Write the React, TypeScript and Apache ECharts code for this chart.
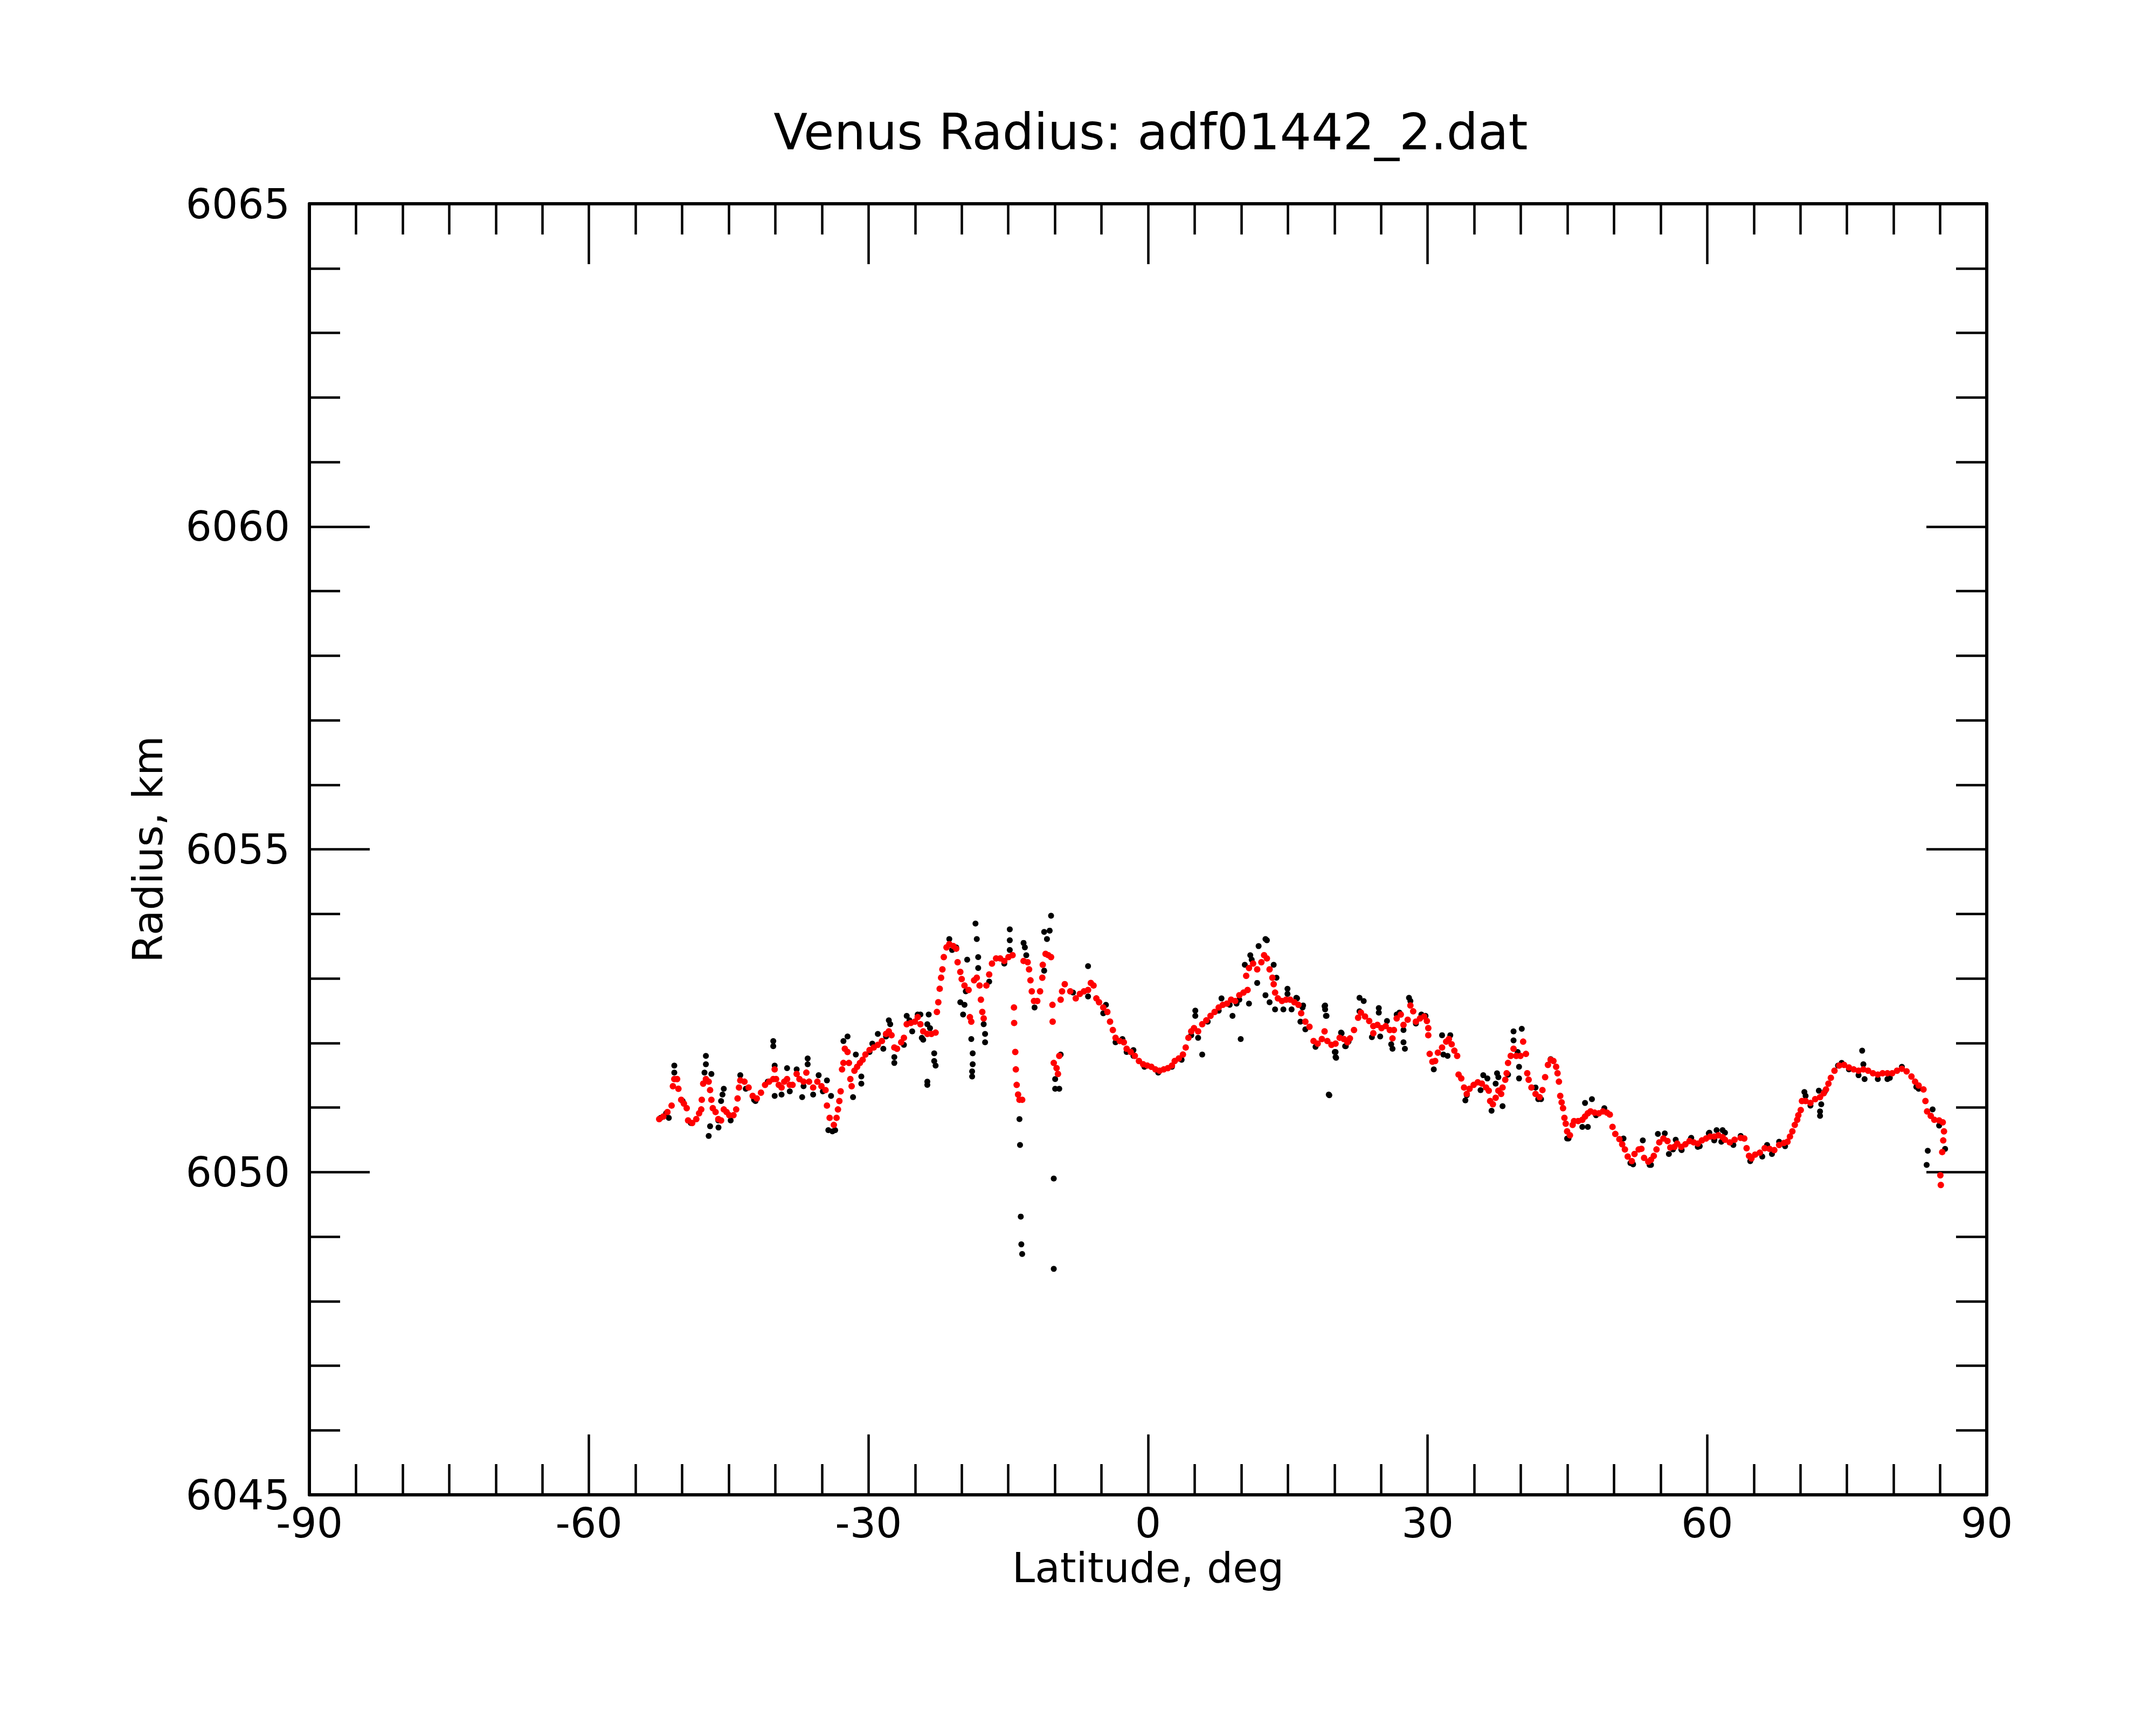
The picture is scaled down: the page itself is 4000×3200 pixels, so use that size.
import React, { useEffect, useRef } from "react";
import * as echarts from "echarts";

const TITLE = "Venus Radius: adf01442_2.dat";
const X_NAME = "Latitude, deg";
const Y_NAME = "Radius, km";
const X_MIN = -90;
const X_MAX = 90;
const X_STEP = 30;
const Y_MIN = 6045;
const Y_MAX = 6065;
const Y_STEP = 5;

// Red (smoothed) profile: latitude, deg
const redLat = [
  -52.46, -52.02, -51.58, -51.13, -50.99, -50.84, -50.54, -50.4, -50.1, -49.81, -49.51, -49.36, -48.92, -48.48,
  -48.18, -47.95, -47.89, -47.74, -47.45, -47.15, -47.0, -46.86, -46.71, -46.41, -46.12, -45.82, -45.53, -45.23,
  -44.94, -44.49, -44.2, -44.05, -43.9, -43.76, -43.31, -42.87, -42.43, -41.99, -41.54, -41.1, -40.66, -40.22,
  -40.07, -39.92, -39.63, -39.33, -39.04, -38.74, -38.45, -38.15, -37.71, -37.41, -36.97, -36.67, -36.38, -35.94,
  -35.49, -35.05, -34.61, -34.46, -34.17, -33.72, -33.43, -33.28, -33.13, -32.99, -32.84, -32.69, -32.54, -32.25,
  -32.1, -31.95, -31.81, -31.51, -31.22, -30.92, -30.63, -30.33, -29.89, -29.44, -29.0, -28.56, -28.12, -27.82,
  -27.53, -27.23, -26.94, -26.49, -26.2, -25.9, -25.46, -25.02, -24.72, -24.43, -24.13, -23.69, -23.25, -22.8,
  -22.66, -22.51, -22.36, -22.21, -22.07, -21.92, -21.63, -21.33, -20.89, -20.59, -20.44, -20.15, -20.0, -19.7,
  -19.26, -19.12, -18.97, -18.67, -18.38, -18.08, -17.94, -17.79, -17.64, -17.35, -17.05, -16.75, -16.31, -15.87,
  -15.43, -14.98, -14.54, -14.39, -14.37, -14.25, -14.19, -14.1, -13.95, -13.8, -13.51, -13.36, -12.92, -12.77,
  -12.62, -12.48, -12.24, -11.89, -11.59, -11.35, -11.3, -11.0, -10.71, -10.41, -10.26, -10.24, -10.12, -9.82,
  -9.67, -9.53, -9.38, -9.23,
  -8.94, -8.35, -7.76, -7.32, -6.88, -6.44, -6.14, -5.85, -5.55, -5.26, -4.81, -4.37, -4.08, -3.78, -3.49, -3.04,
  -2.6, -2.3, -1.86, -1.42, -0.98, -0.53, -0.09, 0.35, 0.79, 1.24, 1.68, 2.12, 2.56, 2.86, 3.3, 3.74, 4.04, 4.33,
  4.63, 4.93, 5.37, 5.81, 6.25, 6.7, 7.14, 7.58, 8.02, 8.47, 8.91, 9.35, 9.79, 10.24, 10.53, 10.68, 10.83, 11.27,
  11.71, 12.16, 12.45, 12.75, 13.04, 13.34, 13.48, 13.63, 13.93, 14.37, 14.81, 15.25, 15.7, 16.14, 16.43, 16.88,
  17.32, 17.76, 18.2, 18.65, 18.94, 19.24, 19.68, 20.12, 20.56, 21.01, 21.39,
  21.66, 22.1, 22.54, 22.84, 23.28, 23.73, 24.17, 24.17, 24.61, 25.05, 25.5, 25.94, 26.23, 26.38, 26.68, 27.12,
  27.41, 27.86, 28.15, 28.45, 28.74, 29.18, 29.63, 29.92, 30.07, 30.07, 30.22, 30.51, 30.81, 31.1, 31.55, 31.99,
  32.28, 32.58, 32.87, 33.17, 33.32, 33.61, 33.91, 34.2, 34.5, 34.94, 35.38, 35.82, 36.27, 36.56, 36.71, 37.0,
  37.3, 37.59, 37.89, 38.04, 38.33, 38.48, 38.63, 38.92, 39.22, 39.51, 39.96, 40.25, 40.55, 40.69, 40.84, 41.14,
  41.58, 42.02, 42.32, 42.61, 42.91, 43.2, 43.5, 43.79, 43.94, 44.09, 44.23, 44.38, 44.53, 44.68, 44.82, 44.97,
  45.27, 45.56, 45.71, 46.15, 46.6, 46.89, 47.19, 47.48, 47.92, 48.37, 48.81, 49.25, 49.55, 49.84, 50.14, 50.58,
  50.88, 51.17, 51.47, 51.91, 52.2, 52.65, 52.94, 53.23, 53.68, 53.97, 54.27, 54.56, 54.86, 55.3, 55.74, 56.04,
  56.48, 56.78, 57.22, 57.66, 58.1, 58.55, 58.99, 59.43, 59.88, 60.32, 60.76, 61.2, 61.65,
  61.91, 62.43, 62.94, 63.59, 63.98, 64.23, 64.49, 64.75, 65.14, 65.65, 66.17, 66.69, 67.2, 67.72, 68.24, 68.62,
  68.88, 69.14, 69.4, 69.66, 69.78, 70.04, 70.17, 70.56, 71.08, 71.59, 72.11, 72.5, 72.75, 73.01, 73.27, 73.66,
  74.17, 74.69, 75.21, 75.72, 76.24, 76.76, 77.27, 77.79, 78.31, 78.82, 79.34, 79.85, 80.37, 80.89, 81.4, 81.92,
  82.31, 82.69, 83.21, 83.42, 83.6, 83.99, 84.37, 84.89, 85.28, 85.41, 85.33, 85.22, 85.02, 85.07,
];

// Red (smoothed) profile: radius, km
const redRadius = [
  6050.82, 6050.86, 6050.93, 6051.03, 6051.33, 6051.44, 6051.44, 6051.29, 6051.12, 6051.06, 6050.99, 6050.8, 6050.76, 6050.82,
  6050.91, 6050.97, 6051.12, 6051.37, 6051.44, 6051.4, 6051.27, 6051.12, 6050.99, 6050.93, 6050.82, 6050.8, 6050.97, 6050.93,
  6050.88, 6050.88, 6050.97, 6051.14, 6051.31, 6051.42, 6051.4, 6051.31, 6051.18, 6051.14, 6051.23, 6051.35, 6051.4, 6051.44,
  6051.59, 6051.44, 6051.35, 6051.31, 6051.4, 6051.44, 6051.35, 6051.35, 6051.52, 6051.44, 6051.4, 6051.54, 6051.4, 6051.31,
  6051.4, 6051.33, 6051.27, 6051.03, 6050.84, 6050.73, 6050.84, 6050.97, 6051.1, 6051.25, 6051.59, 6051.69, 6051.91, 6051.86,
  6051.69, 6051.44, 6051.33, 6051.57, 6051.63, 6051.69, 6051.74, 6051.82, 6051.89, 6051.93, 6051.97, 6052.03, 6052.14, 6052.18,
  6052.12, 6051.93, 6051.91, 6052.01, 6052.08, 6052.29, 6052.31, 6052.33, 6052.4, 6052.29, 6052.18, 6052.14, 6052.14, 6052.16,
  6052.48, 6052.63, 6052.84, 6053.01, 6053.14, 6053.33, 6053.48, 6053.53, 6053.5, 6053.46, 6053.25, 6053.1, 6052.99, 6052.89,
  6052.82, 6052.4, 6052.33, 6052.97, 6053.01, 6052.89, 6052.67, 6052.48, 6052.38, 6052.89, 6053.06, 6053.23, 6053.31, 6053.31,
  6053.27, 6053.33, 6053.36, 6052.55, 6052.31, 6051.86, 6051.59, 6051.35, 6051.2, 6051.12, 6051.12, 6053.27, 6053.25, 6053.14,
  6052.97, 6052.8, 6052.65, 6052.65, 6052.8, 6053.01, 6053.21, 6053.38, 6053.36, 6053.33, 6052.59, 6052.33, 6051.69, 6051.61,
  6051.52, 6051.8, 6052.67, 6052.8,
  6052.91, 6052.8, 6052.69, 6052.76, 6052.8, 6052.82, 6052.93, 6052.89, 6052.69, 6052.63, 6052.55, 6052.48, 6052.33, 6052.2, 6052.08, 6052.03,
  6052.01, 6051.91, 6051.86, 6051.8, 6051.72, 6051.67, 6051.65, 6051.63, 6051.59, 6051.57, 6051.59, 6051.61, 6051.65, 6051.72, 6051.76, 6051.82, 6051.93, 6052.08,
  6052.18, 6052.23, 6052.18, 6052.29, 6052.35, 6052.42, 6052.48, 6052.55, 6052.59, 6052.61, 6052.67, 6052.65, 6052.74, 6052.78, 6053.04, 6052.82, 6053.16, 6053.23,
  6053.14, 6053.25, 6053.36, 6053.31, 6053.14, 6053.01, 6052.91, 6052.78, 6052.69, 6052.65, 6052.67, 6052.67, 6052.63, 6052.59, 6052.46, 6052.33,
  6052.25, 6052.03, 6051.99, 6052.06, 6052.18, 6052.03, 6051.97, 6051.99, 6052.08, 6052.06, 6052.01,
  6052.07, 6052.2, 6052.39, 6052.47, 6052.41, 6052.34, 6052.26, 6052.15, 6052.28, 6052.23, 6052.26, 6052.2, 6052.07, 6052.2, 6052.38, 6052.44,
  6052.28, 6052.36, 6052.58, 6052.49, 6052.33, 6052.38, 6052.41, 6052.34, 6052.23, 6052.12, 6051.83, 6051.71, 6051.72, 6051.85, 6051.93, 6052.02,
  6052.06, 6051.98, 6051.88, 6051.8, 6051.51, 6051.45, 6051.31, 6051.21, 6051.29, 6051.35, 6051.39, 6051.37, 6051.31, 6051.26, 6051.1, 6051.05,
  6051.15, 6051.26, 6051.21, 6051.31, 6051.43, 6051.53, 6051.69, 6051.8, 6051.91, 6051.8, 6051.8, 6052.02, 6051.83, 6051.53, 6051.43, 6051.31,
  6051.21, 6051.16, 6051.27, 6051.47, 6051.66, 6051.74, 6051.72, 6051.63, 6051.53, 6051.4, 6051.18, 6051.08, 6050.99, 6050.84, 6050.75, 6050.63,
  6050.57, 6050.73, 6050.79, 6050.79, 6050.81, 6050.86, 6050.91, 6050.94, 6050.92, 6050.91, 6050.94, 6050.92, 6050.89, 6050.7, 6050.59, 6050.51,
  6050.43, 6050.35, 6050.24, 6050.17, 6050.28, 6050.35, 6050.36, 6050.22, 6050.16, 6050.19, 6050.25, 6050.35, 6050.46, 6050.52, 6050.48, 6050.38,
  6050.39, 6050.44, 6050.39, 6050.43, 6050.48, 6050.46, 6050.44, 6050.49, 6050.52, 6050.55, 6050.55, 6050.57, 6050.54,
  6050.5, 6050.46, 6050.5, 6050.53, 6050.52, 6050.37, 6050.25, 6050.21, 6050.27, 6050.3, 6050.37, 6050.36, 6050.34, 6050.42, 6050.45, 6050.47,
  6050.55, 6050.63, 6050.73, 6050.81, 6050.88, 6050.96, 6051.1, 6051.1, 6051.07, 6051.13, 6051.16, 6051.22, 6051.28, 6051.37, 6051.46, 6051.57,
  6051.65, 6051.66, 6051.62, 6051.59, 6051.57, 6051.59, 6051.57, 6051.53, 6051.51, 6051.53, 6051.53, 6051.53, 6051.57, 6051.6, 6051.56, 6051.48,
  6051.4, 6051.34, 6051.28, 6051.1, 6050.94, 6050.87, 6050.81, 6050.8, 6050.77, 6050.63, 6050.49, 6050.31, 6049.95, 6049.8,
];

// Black (raw) points: latitude, deg
const blackLat = [
  -52.31, -51.72, -51.43, -50.84, -50.84, -49.95, -49.07, -47.45, -47.45, -47.6, -46.86, -47.0, -47.15, -46.1, -46.12,
  -45.53, -45.67, -45.82, -44.79, -43.76, -43.17, -42.28, -42.13, -40.81, -40.22, -40.22, -40.07, -40.07, -39.33, -38.74,
  -38.45, -37.71, -37.12, -36.97, -36.53, -36.53, -35.94, -35.35, -34.9, -34.46, -34.31, -33.87, -33.58, -34.02, -32.69,
  -32.25, -31.66, -31.36, -30.77, -30.77, -29.89, -29.59, -29.0, -28.41, -28.12, -27.82, -27.67, -27.23, -27.23, -26.2,
  -25.9, -25.61, -25.31, -24.72, -24.43, -24.28, -24.13, -23.69, -23.54, -23.4, -23.69, -23.69, -22.95, -22.95, -22.8,
  -21.33, -21.03, -20.59, -20.15, -19.7, -19.85, -19.56, -19.41, -18.97, -18.82, -18.82, -18.88, -18.88, -18.52, -18.38,
  -18.23, -18.23, -17.64, -17.49, -17.49, -17.05, -15.43, -14.84, -14.84, -14.84, -13.8, -13.74, -13.66, -13.6, -13.51,
  -13.36, -13.22, -13.07, -12.18, -11.15, -10.85, -10.56, -10.41, -11.15, -10.12, -10.12, -9.97, -9.97, -9.53, -9.38,
  -8.94, -8.05,
  -6.44, -6.44, -5.26, -4.52, -4.81, -3.49, -2.75, -2.3, -1.57, -1.57, -0.39, 1.09, 2.56, 3.6, 4.63, 5.07, 5.07, 5.37,
  5.81, 6.4, 7.58, 7.88, 8.76, 9.06, 9.5, 9.79, 9.94, 10.83, 10.38, 10.97, 11.12, 11.71, 11.86, 12.6, 12.75, 12.6,
  13.04, 13.48, 13.78, 13.63, 14.96, 14.96, 14.52, 15.4, 15.91, 15.99, 16.35, 16.58, 16.64, 16.88, 17.97, 18.94, 19.0,
  19.0, 19.09, 19.15, 19.39, 19.45, 20.04, 20.12, 20.12, 20.18, 20.71, 20.77, 21.15, 21.22, 21.51, 22.69, 22.69, 23.14,
  24.02, 24.76, 24.76, 24.91, 25.64, 26.09, 26.23, 26.68, 26.97, 27.41, 27.41, 27.56, 28.0, 28.15, 28.74, 29.33, 29.77,
  30.66, 31.55, 31.69, 32.14, 32.43, 34.05, 34.2, 35.68, 35.97, 36.41, 36.86, 37.3, 37.45, 37.59, 38.04, 38.63, 39.22,
  39.22, 39.66, 39.81, 39.81, 40.1, 41.58, 41.87, 42.17, 43.2, 44.97, 45.12, 46.6, 46.89, 47.19, 47.63, 48.07, 48.96,
  51.02, 51.76, 52.05, 53.09, 53.82, 53.97, 54.71, 55.45, 55.89, 56.33, 56.62, 57.22, 57.26, 58.25, 58.29, 58.99, 58.99,
  59.2, 60.17, 60.23, 60.75, 60.76, 61.01, 61.52, 61.65, 61.91, 62.81, 63.59, 64.62, 65.91, 66.43, 66.95, 67.72, 68.36,
  70.43, 70.56, 71.08, 71.98, 72.24, 72.11, 72.11, 72.63, 74.04, 74.43, 75.21, 76.24, 76.63, 76.76, 76.89, 78.31, 79.34,
  79.6, 80.89, 82.44, 82.69, 84.19, 83.67, 83.55, 84.89, 85.53,
];

// Black (raw) points: radius, km
const blackRadius = [
  6050.84, 6050.91, 6050.84, 6051.65, 6051.54, 6051.1, 6050.76, 6051.8, 6051.67, 6051.54, 6051.52, 6050.71, 6050.56, 6050.69, 6050.8,
  6051.29, 6051.2, 6051.1, 6050.8, 6051.5, 6051.29, 6051.12, 6051.1, 6051.4, 6052.03, 6051.95, 6051.65, 6051.18, 6051.2, 6051.61,
  6051.25, 6051.59, 6051.16, 6051.33, 6051.76, 6051.67, 6051.2, 6051.5, 6051.25, 6051.42, 6050.65, 6050.63, 6050.65, 6051.18, 6052.03,
  6052.1, 6051.16, 6051.82, 6051.48, 6051.37, 6051.86, 6051.99, 6052.14, 6051.91, 6052.1, 6052.35, 6052.29, 6051.78, 6051.69, 6051.97,
  6052.42, 6052.35, 6052.18, 6052.44, 6052.44, 6052.08, 6052.05, 6052.29, 6052.44, 6052.23, 6051.4, 6051.35, 6051.84, 6051.72, 6051.65,
  6053.61, 6053.44, 6053.48, 6052.63, 6052.59, 6052.44, 6052.8, 6053.29, 6052.06, 6051.84, 6051.67, 6051.56, 6051.48, 6053.85, 6053.61,
  6053.33, 6053.16, 6052.29, 6052.14, 6052.01, 6052.95, 6053.23, 6053.76, 6053.59, 6053.44, 6050.82, 6050.42, 6049.31, 6048.88, 6048.73,
  6053.55, 6053.48, 6053.36, 6052.55, 6053.72, 6053.61, 6053.74, 6053.97, 6053.12, 6049.9, 6048.5, 6051.44, 6051.29, 6051.29, 6051.82,
  6052.91, 6052.78,
  6053.19, 6052.72, 6052.63, 6052.59, 6052.46, 6052.01, 6052.06, 6051.86, 6051.89, 6051.8, 6051.63, 6051.54, 6051.63, 6051.74, 6052.12, 6052.5, 6052.42, 6052.08,
  6051.82, 6052.33, 6052.5, 6052.69, 6052.59, 6052.42, 6052.61, 6052.67, 6052.06, 6052.61, 6053.21, 6053.36, 6053.29, 6052.93, 6053.5, 6053.61, 6053.59, 6052.74,
  6052.63, 6053.21, 6053.01, 6052.52, 6052.84, 6052.76, 6052.52, 6052.52, 6052.7, 6052.69, 6052.33, 6052.55, 6052.58, 6052.21, 6051.94, 6052.57, 6052.58,
  6052.52, 6052.42, 6052.42, 6051.2, 6051.19, 6051.86, 6051.86, 6051.78, 6051.77, 6052.16, 6052.15, 6051.95, 6051.95, 6052.02, 6052.7, 6052.49, 6052.65,
  6052.09, 6052.54, 6052.47, 6052.1, 6052.34, 6051.98, 6051.91, 6052.44, 6052.47, 6052.2, 6052.01, 6051.91, 6052.7, 6052.65, 6052.3, 6052.44, 6052.42,
  6051.59, 6052.12, 6051.82, 6051.8, 6052.12, 6051.11, 6051.19, 6051.27, 6051.5, 6051.45, 6050.95, 6051.37, 6051.53, 6051.47, 6051.02, 6051.51, 6052.18,
  6052.04, 6051.86, 6051.63, 6051.45, 6052.22, 6051.31, 6051.13, 6051.13, 6051.75, 6050.52, 6050.52, 6050.7, 6051.07, 6050.7, 6051.13, 6050.88, 6050.99,
  6050.52, 6050.14, 6050.12, 6050.49, 6050.11, 6050.11, 6050.59, 6050.6, 6050.28, 6050.35, 6050.5, 6050.35, 6050.34, 6050.52, 6050.53, 6050.43, 6050.39,
  6050.4, 6050.6, 6050.61, 6050.49, 6050.51, 6050.65, 6050.47, 6050.65, 6050.61, 6050.42, 6050.56, 6050.17, 6050.24, 6050.42, 6050.28, 6050.47, 6050.4,
  6051.24, 6051.18, 6051.03, 6051.26, 6051.05, 6050.94, 6050.87, 6051.25, 6051.65, 6051.69, 6051.59, 6051.5, 6051.88, 6051.67, 6051.44, 6051.44, 6051.44,
  6051.46, 6051.63, 6051.32, 6051.29, 6050.97, 6050.33, 6050.11, 6050.72, 6050.36,
];

const FONT = "DejaVu Sans";
const INK = "#000000";

function makeXAxis(bottom: boolean) {
  return {
    type: "value",
    position: bottom ? "bottom" : "top",
    min: X_MIN,
    max: X_MAX,
    interval: X_STEP,
    name: bottom ? X_NAME : "",
    nameLocation: "middle",
    nameGap: 97,
    nameTextStyle: { fontFamily: FONT, fontSize: 76, color: INK },
    axisLine: { show: true, onZero: false, lineStyle: { color: INK, width: 6 } },
    axisTick: { show: true, inside: true, length: 112, lineStyle: { color: INK, width: 4.5 } },
    minorTick: { show: true, splitNumber: 6, length: 57, lineStyle: { color: INK, width: 4.5 } },
    axisLabel: {
      show: bottom,
      fontFamily: FONT,
      fontSize: 76,
      color: INK,
      margin: 14,
      formatter: (v: number) => String(v),
    },
    splitLine: { show: false },
    minorSplitLine: { show: false },
  };
}

function makeYAxis(left: boolean) {
  return {
    type: "value",
    position: left ? "left" : "right",
    min: Y_MIN,
    max: Y_MAX,
    interval: Y_STEP,
    name: left ? Y_NAME : "",
    nameLocation: "middle",
    nameGap: 262,
    nameTextStyle: { fontFamily: FONT, fontSize: 76, color: INK },
    axisLine: { show: true, onZero: false, lineStyle: { color: INK, width: 6 } },
    axisTick: { show: true, inside: true, length: 112, lineStyle: { color: INK, width: 4.5 } },
    minorTick: { show: true, splitNumber: 5, length: 57, lineStyle: { color: INK, width: 4.5 } },
    axisLabel: {
      show: left,
      fontFamily: FONT,
      fontSize: 76,
      color: INK,
      margin: 36,
      formatter: (v: number) => String(v),
    },
    splitLine: { show: false },
    minorSplitLine: { show: false },
  };
}

export default function App() {
  const ref = useRef<HTMLDivElement>(null);

  useEffect(() => {
    document.body.style.margin = "0";
    if (!ref.current) return;
    const chart = echarts.init(ref.current, null, { renderer: "svg" });
    const black = blackLat.map((v, i) => [v, blackRadius[i]]);
    const red = redLat.map((v, i) => [v, redRadius[i]]);
    chart.setOption({
      animation: false,
      backgroundColor: "#ffffff",
      textStyle: { fontFamily: FONT },
      title: {
        text: TITLE,
        left: 2130,
        top: 194,
        textAlign: "center",
        textStyle: { fontFamily: FONT, fontSize: 92, fontWeight: "normal", color: INK },
      },
      grid: { left: 574, right: 314, top: 378, bottom: 427, containLabel: false },
      xAxis: [makeXAxis(true), makeXAxis(false)],
      yAxis: [makeYAxis(true), makeYAxis(false)],
      series: [
        {
          type: "scatter",
          xAxisIndex: 0,
          yAxisIndex: 0,
          data: black,
          symbol: "circle",
          symbolSize: 11,
          silent: true,
          itemStyle: { color: INK, opacity: 1 },
        },
        {
          type: "scatter",
          xAxisIndex: 0,
          yAxisIndex: 0,
          data: red,
          symbol: "circle",
          symbolSize: 12,
          silent: true,
          itemStyle: { color: "#ff0000", opacity: 1 },
        },
      ],
    });
    return () => chart.dispose();
  }, []);

  return <div ref={ref} style={{ width: 4000, height: 3200 }} />;
}
